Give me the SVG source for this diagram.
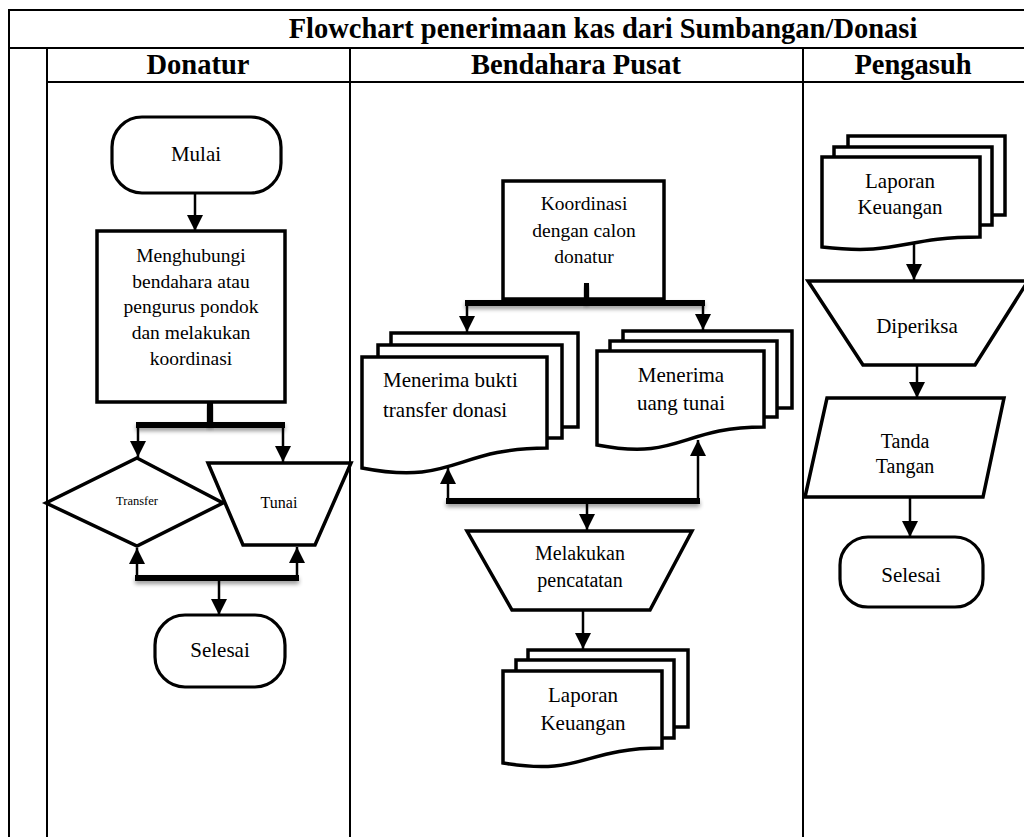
<svg xmlns="http://www.w3.org/2000/svg" width="1024" height="837" viewBox="0 0 1024 837">
  <style>
    .grid { stroke: #000; stroke-width: 2; fill: none; }
    .shape { fill: #fff; stroke: #000; stroke-width: 3.5; stroke-linejoin: miter; }
    .term { fill: #fff; stroke: #000; stroke-width: 3.2; }
    .flow { stroke: #000; stroke-width: 2.5; fill: none; marker-end: url(#arrow); }
    .bar { fill: #000; filter: url(#barShadow); }
    .head { font-family: "Liberation Serif", "Times New Roman", serif; font-weight: bold; font-size: 28.5px; text-anchor: middle; fill: #000; }
    .lbl { font-family: "Liberation Serif", "Times New Roman", serif; font-size: 19.5px; text-anchor: middle; fill: #000; }
    .big { font-size: 21px; }
  </style>
  <defs>
    <marker id="arrow" markerUnits="userSpaceOnUse" markerWidth="16" markerHeight="16" refX="16" refY="8" orient="auto">
      <path d="M0,0 L16,8 L0,16 Z" fill="#000"/>
    </marker>
    <filter id="barShadow" x="-5%" y="-100%" width="110%" height="400%">
      <feGaussianBlur in="SourceAlpha" stdDeviation="2"/>
      <feOffset dy="3" result="blur"/>
      <feComponentTransfer><feFuncA type="linear" slope="0.4"/></feComponentTransfer>
      <feMerge><feMergeNode/><feMergeNode in="SourceGraphic"/></feMerge>
    </filter>
  </defs>

  <rect width="1024" height="837" fill="#fff"/>

  <!-- swimlane table -->
  <g id="table">
    <line class="grid" x1="9" y1="10" x2="1024" y2="10"/>
    <line class="grid" x1="9" y1="48" x2="1024" y2="48"/>
    <line class="grid" x1="47" y1="82" x2="1024" y2="82"/>
    <line class="grid" x1="9" y1="9" x2="9" y2="837"/>
    <line class="grid" x1="47" y1="48" x2="47" y2="837"/>
    <line class="grid" x1="350" y1="48" x2="350" y2="837"/>
    <line class="grid" x1="803" y1="48" x2="803" y2="837"/>
    <text class="head" x="603" y="38">Flowchart penerimaan kas dari Sumbangan/Donasi</text>
    <text class="head" x="198" y="74">Donatur</text>
    <text class="head" x="576" y="74">Bendahara Pusat</text>
    <text class="head" x="913" y="74">Pengasuh</text>
  </g>

  <!-- Donatur lane -->
  <g id="mulai">
    <rect class="term" x="112" y="117" width="169" height="76" rx="30"/>
    <text class="lbl big" x="196" y="161">Mulai</text>
  </g>
  <g id="menghubungi">
    <rect class="shape" x="97" y="231" width="188" height="171"/>
    <text class="lbl" x="191" y="262">Menghubungi</text>
    <text class="lbl" x="191" y="288">bendahara atau</text>
    <text class="lbl" x="191" y="313">pengurus pondok</text>
    <text class="lbl" x="191" y="339">dan melakukan</text>
    <text class="lbl" x="191" y="365">koordinasi</text>
  </g>
  <g id="transfer">
    <path class="shape" d="M137,458 L223,503 L137,546 L46,503 Z"/>
    <text class="lbl" x="137" y="505" style="font-size:12.5px">Transfer</text>
  </g>
  <g id="tunai">
    <path class="shape" d="M208,463 L351,463 L315,545 L243,545 Z"/>
    <text class="lbl" x="279" y="508" style="font-size:16px">Tunai</text>
  </g>
  <g id="selesai-donatur">
    <rect class="term" x="155" y="615" width="130" height="72" rx="30"/>
    <text class="lbl big" x="220" y="657">Selesai</text>
  </g>

  <!-- Bendahara Pusat lane -->
  <g id="koordinasi">
    <rect class="shape" x="503" y="181" width="161" height="118"/>
    <text class="lbl" x="584" y="210">Koordinasi</text>
    <text class="lbl" x="584" y="237">dengan calon</text>
    <text class="lbl" x="584" y="263">donatur</text>
  </g>
  <g id="bukti-transfer">
    <rect class="shape" x="391" y="333" width="187" height="94"/>
    <rect class="shape" x="378" y="345" width="184" height="93"/>
    <path class="shape" d="M362,357 H547 V448 C454.5,448 454.5,486 362,468 Z"/>
    <text class="lbl big" x="383" y="387" style="text-anchor:start">Menerima bukti</text>
    <text class="lbl big" x="383" y="417" style="text-anchor:start">transfer donasi</text>
  </g>
  <g id="uang-tunai">
    <rect class="shape" x="623" y="331" width="169" height="77"/>
    <rect class="shape" x="610" y="341" width="167" height="76"/>
    <path class="shape" d="M597,351 H764 V427 C680.5,427 680.5,461 597,445 Z"/>
    <text class="lbl big" x="681" y="382">Menerima</text>
    <text class="lbl big" x="681" y="410">uang tunai</text>
  </g>
  <g id="pencatatan">
    <path class="shape" d="M467,531 L692,531 L650,610 L512,610 Z"/>
    <text class="lbl" x="580" y="560" style="font-size:20px">Melakukan</text>
    <text class="lbl" x="580" y="587" style="font-size:20px">pencatatan</text>
  </g>
  <g id="laporan-bendahara">
    <rect class="shape" x="528" y="650" width="160" height="77"/>
    <rect class="shape" x="516" y="660" width="158" height="78"/>
    <path class="shape" d="M503,671 H662 V748 C582.5,748 582.5,776.5 503,763 Z"/>
    <text class="lbl big" x="583" y="702">Laporan</text>
    <text class="lbl big" x="583" y="730">Keuangan</text>
  </g>

  <!-- Pengasuh lane -->
  <g id="laporan-pengasuh">
    <rect class="shape" x="848" y="136" width="157" height="79"/>
    <rect class="shape" x="834" y="147" width="158" height="78"/>
    <path class="shape" d="M822,157 H980 V237 C901,237 901,256 822,247 Z"/>
    <text class="lbl big" x="900" y="188">Laporan</text>
    <text class="lbl big" x="900" y="214">Keuangan</text>
  </g>
  <g id="diperiksa">
    <path class="shape" d="M808,281 L1028,281 L975,365 L863,365 Z"/>
    <text class="lbl big" x="917" y="333">Diperiksa</text>
  </g>
  <g id="tanda-tangan">
    <path class="shape" d="M827,398 L1004,398 L983,497 L805,497 Z"/>
    <text class="lbl" x="905" y="448" style="font-size:20px">Tanda</text>
    <text class="lbl" x="905" y="473" style="font-size:20px">Tangan</text>
  </g>
  <g id="selesai-pengasuh">
    <rect class="term" x="840" y="537" width="143" height="70" rx="28"/>
    <text class="lbl big" x="911" y="582">Selesai</text>
  </g>

  <!-- connectors -->
  <g id="connectors">
    <!-- Donatur -->
    <line class="flow" x1="195" y1="193" x2="195" y2="231"/>
    <rect class="bar" x="207" y="402" width="6" height="23"/>
    <rect class="bar" x="136" y="422" width="149" height="6"/>
    <line class="flow" x1="138" y1="425" x2="138" y2="457"/>
    <line class="flow" x1="283" y1="425" x2="283" y2="462"/>
    <rect class="bar" x="135" y="575" width="164" height="6"/>
    <line class="flow" x1="137" y1="578" x2="137" y2="548"/>
    <line class="flow" x1="297" y1="578" x2="297" y2="547"/>
    <line class="flow" x1="219" y1="578" x2="219" y2="615"/>
    <!-- Bendahara Pusat -->
    <rect class="bar" x="584" y="283" width="5" height="20"/>
    <rect class="bar" x="465" y="300" width="240" height="6"/>
    <line class="flow" x1="467" y1="303" x2="467" y2="332"/>
    <line class="flow" x1="703" y1="303" x2="703" y2="330"/>
    <rect class="bar" x="446" y="498" width="254" height="6"/>
    <line class="flow" x1="448" y1="501" x2="448" y2="468"/>
    <line class="flow" x1="698" y1="501" x2="698" y2="440"/>
    <line class="flow" x1="587" y1="501" x2="587" y2="530"/>
    <line class="flow" x1="583" y1="610" x2="583" y2="649"/>
    <!-- Pengasuh -->
    <line class="flow" x1="914" y1="244" x2="914" y2="280"/>
    <line class="flow" x1="917" y1="365" x2="917" y2="398"/>
    <line class="flow" x1="910" y1="497" x2="910" y2="537"/>
  </g>
</svg>
